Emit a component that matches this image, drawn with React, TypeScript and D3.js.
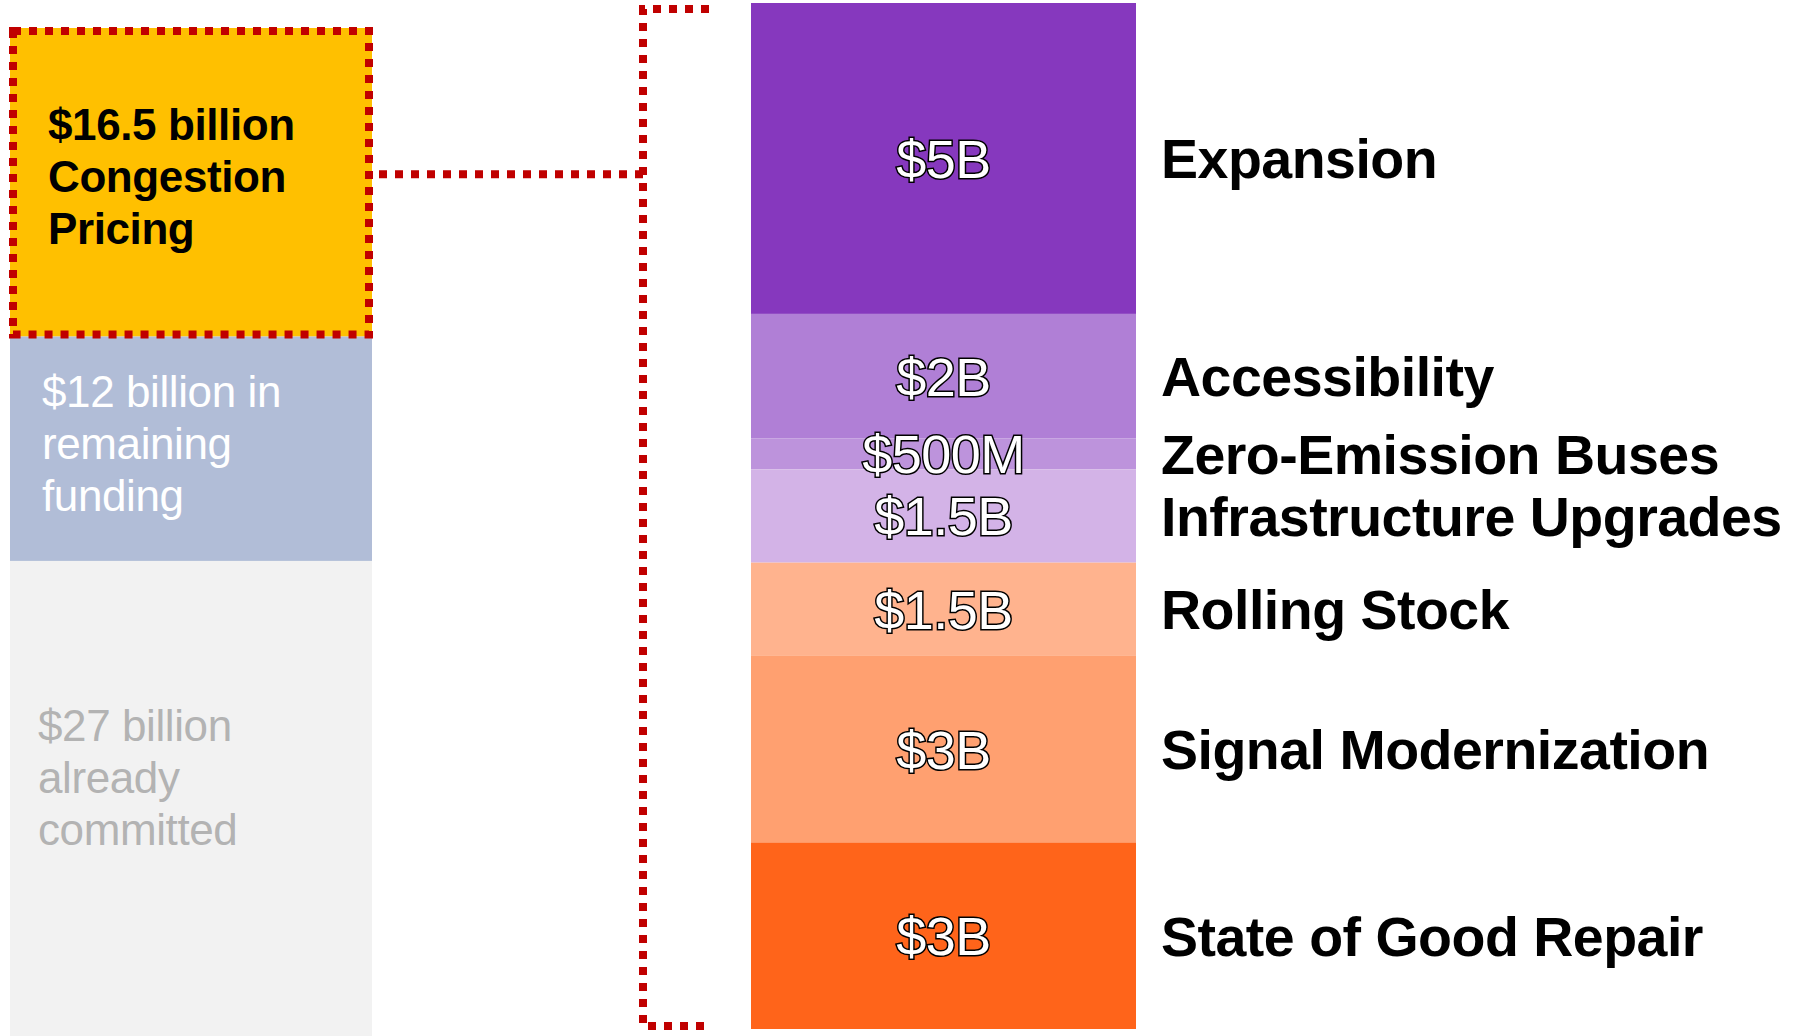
import React, { useEffect } from "react";
import * as d3 from "d3";

// Left column: overall funding split ($ billion)
const leftNames = ["Congestion Pricing", "Remaining funding", "Already committed"];
const leftValues = [16.5, 12, 27];
const leftLines = [
  ["$16.5 billion", "Congestion", "Pricing"],
  ["$12 billion in", "remaining", "funding"],
  ["$27 billion", "already", "committed"],
];
const leftColors = ["#FFC000", "#B1BDD7", "#F2F2F2"];
const leftTextColors = ["#000000", "#FFFFFF", "#B3B3B3"];

// Right column: breakdown of congestion pricing ($ billion)
const categories = [
  "Expansion",
  "Accessibility",
  "Zero-Emission Buses",
  "Infrastructure Upgrades",
  "Rolling Stock",
  "Signal Modernization",
  "State of Good Repair",
];
const values = [5, 2, 0.5, 1.5, 1.5, 3, 3];
const valueLabels = ["$5B", "$2B", "$500M", "$1.5B", "$1.5B", "$3B", "$3B"];
const colors = ["#8638BE", "#B07FD6", "#BD93DC", "#D3B3E7", "#FFB38E", "#FFA070", "#FF641A"];

const W = 1793;
const H = 1036;
const FONT = "'Liberation Sans', Arial, Helvetica, sans-serif";
const RED = "#C00000";

export default function App() {
  useEffect(() => {
    document.body.style.margin = "0";
  }, []);

  const leftTotal = d3.sum(leftValues);
  const yLeft = d3.scaleLinear().domain([0, leftTotal]).range([28, 28 + leftTotal * 18.7]);
  const leftStarts = d3.cumsum([0, ...leftValues]);
  const xLeft = d3.scaleLinear().domain([0, 1]).range([10, 372]);

  const rightTotal = d3.sum(values);
  const yRight = d3.scaleLinear().domain([0, rightTotal]).range([3, 1029]);
  const rightStarts = d3.cumsum([0, ...values]);
  const xRight = d3.scaleLinear().domain([0, 1]).range([751, 1136]);

  const leftTextX = [48, 42, 38];
  const lineH = 52;
  const visibleBottom = H - 30;

  // link geometry
  const yellowTop = yLeft(0);
  const yellowBot = yLeft(leftValues[0]);
  const linkY = (yellowTop + yellowBot) / 2 - 8;
  const bracketX = 643;
  const bracketTop = yRight(0) + 6;
  const bracketBot = yRight(rightTotal) - 3;
  const dash = "8 8";
  const sw = 8;

  return (
    <svg width={W} height={H} style={{ display: "block", background: "#fff" }} fontFamily={FONT}>
      {/* left column */}
      {leftValues.map((v, i) => {
        const y0 = yLeft(leftStarts[i]);
        const y1 = yLeft(leftStarts[i] + v);
        const ym = (y0 + Math.min(y1, visibleBottom)) / 2;
        return (
          <g key={leftNames[i]}>
            <rect x={xLeft(0)} y={y0} width={xLeft(1) - xLeft(0)} height={y1 - y0} fill={leftColors[i]} />
            <text
              fill={leftTextColors[i]}
              fontSize={44}
              fontWeight={i === 0 ? 700 : 400}
              letterSpacing={-0.4}
            >
              {leftLines[i].map((ln, j) => (
                <tspan key={j} x={leftTextX[i]} y={ym + (j - 1) * lineH + 10}>
                  {ln}
                </tspan>
              ))}
            </text>
          </g>
        );
      })}

      {/* dotted box around congestion pricing */}
      <rect
        x={xLeft(0) + 3}
        y={yellowTop + 3}
        width={xLeft(1) - xLeft(0) - 6}
        height={yellowBot - yellowTop - 5}
        fill="none"
        stroke={RED}
        strokeWidth={sw}
        strokeDasharray={dash}
      />
      {/* link line */}
      <line x1={xLeft(1) + 7} x2={bracketX} y1={linkY} y2={linkY} stroke={RED} strokeWidth={sw} strokeDasharray={dash} />
      {/* bracket */}
      <path
        d={`M${bracketX + 66},${bracketTop} H${bracketX} V${bracketBot} H${bracketX + 66}`}
        fill="none"
        stroke={RED}
        strokeWidth={sw}
        strokeDasharray={dash}
      />

      {/* right stacked column */}
      {values.map((v, i) => {
        const y0 = yRight(rightStarts[i]);
        const y1 = yRight(rightStarts[i] + v);
        return (
          <rect key={categories[i]} x={xRight(0)} y={y0} width={xRight(1) - xRight(0)} height={y1 - y0} fill={colors[i]} />
        );
      })}
      {values.map((v, i) => {
        const y0 = yRight(rightStarts[i]);
        const y1 = yRight(rightStarts[i] + v);
        const ym = (y0 + y1) / 2;
        return (
          <g key={"lab" + categories[i]}>
            <text
              x={(xRight(0) + xRight(1)) / 2}
              y={ym}
              dy="0.36em"
              textAnchor="middle"
              fontSize={54}
              fill="#fff"
              stroke="#000"
              strokeWidth={3}
              paintOrder="stroke"
              letterSpacing={-0.5}
            >
              {valueLabels[i]}
            </text>
            <text x={xRight(1) + 25} y={ym} dy="0.36em" fontSize={55.5} fontWeight={700} fill="#000" letterSpacing={-0.5}>
              {categories[i]}
            </text>
          </g>
        );
      })}
    </svg>
  );
}
